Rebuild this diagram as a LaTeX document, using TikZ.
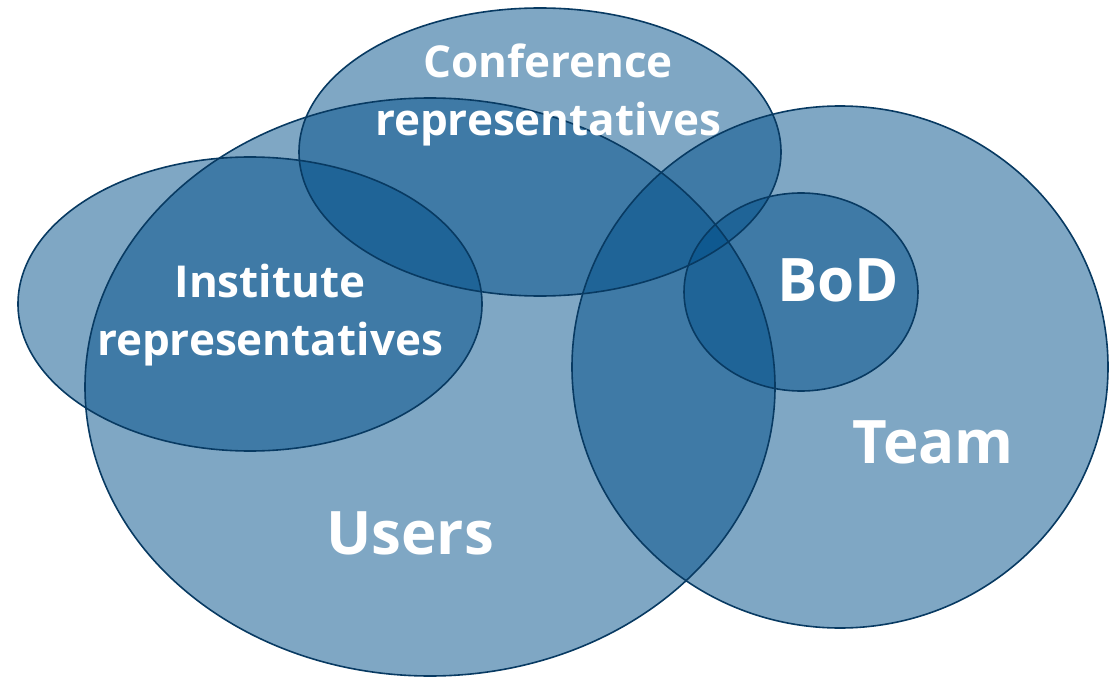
\documentclass[tikz,border=0pt]{standalone}
\usepackage{fontspec}
\setmainfont{Open Sans}[BoldFont={* Bold}]
\definecolor{setfill}{RGB}{0,79,137}
\definecolor{setline}{RGB}{8,58,98}
\tikzset{
  setarea/.style={fill=setfill, fill opacity=0.5},
  setedge/.style={draw=setline, line width=1.6pt},
  biglabel/.style={text=white, font=\bfseries\fontsize{60}{62}\selectfont, inner sep=0pt, align=center},
  midlabel/.style={text=white, font=\bfseries\fontsize{44}{58}\selectfont, inner sep=0pt, align=center}
}
\begin{document}
\begin{tikzpicture}[x=1pt,y=-1pt]
\useasboundingbox (0,0) rectangle (1112,677);
% fills
\fill[setarea] (430,387) ellipse [x radius=345, y radius=289];
\fill[setarea] (840,367) ellipse [x radius=268, y radius=261];
\fill[setarea] (250,304) ellipse [x radius=232, y radius=147];
\fill[setarea] (540,152) ellipse [x radius=241, y radius=144];
\fill[setarea] (801,292) ellipse [x radius=117, y radius=99];
% outlines
\draw[setedge] (430,387) ellipse [x radius=345, y radius=289];
\draw[setedge] (840,367) ellipse [x radius=268, y radius=261];
\draw[setedge] (250,304) ellipse [x radius=232, y radius=147];
\draw[setedge] (540,152) ellipse [x radius=241, y radius=144];
\draw[setedge] (801,292) ellipse [x radius=117, y radius=99];
% labels
\node[midlabel] (conf) at (548,95) {Conference\\representatives};
\node[midlabel] (inst) at (270,315) {Institute\\representatives};
\node[biglabel] (bod) at (838,280) {BoD};
\node[biglabel] (team) at (933,442) {Team};
\node[biglabel] (users) at (410,533) {Users};
\end{tikzpicture}
\end{document}
